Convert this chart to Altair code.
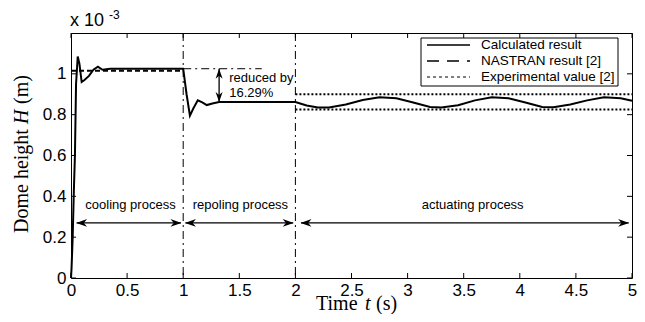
import altair as alt
import pandas as pd

# ---------------- data ----------------
calc_t = [0.0, 0.005, 0.015, 0.025, 0.035, 0.045, 0.06, 0.075, 0.095, 0.12, 0.16, 0.2, 0.24, 0.28, 0.35, 1.0,
          1.03, 1.06, 1.09, 1.13, 1.17, 1.21, 1.26, 1.32, 1.5, 2.0,
          2.1, 2.2, 2.3, 2.45, 2.6, 2.75, 2.9, 3.05, 3.2, 3.3, 3.45, 3.6, 3.75, 3.9, 4.05, 4.2, 4.3, 4.45, 4.6,
          4.75, 4.9, 5.0]
calc_h = [0.0, 0.05, 0.2, 0.42, 0.6, 0.95, 1.085, 1.05, 0.96, 0.97, 0.99, 1.02, 1.035, 1.02, 1.025, 1.025,
          0.9, 0.795, 0.83, 0.87, 0.86, 0.847, 0.855, 0.862, 0.862, 0.862,
          0.845, 0.835, 0.835, 0.85, 0.872, 0.885, 0.88, 0.86, 0.838, 0.835, 0.846, 0.87, 0.885, 0.88, 0.86,
          0.838, 0.836, 0.85, 0.87, 0.885, 0.88, 0.868]

nastran_t = [0.0, 1.0]
nastran_h = [1.015, 1.015]

exp_t = [2.0, 5.0, 2.0, 5.0]
exp_h = [0.9, 0.9, 0.825, 0.825]
exp_id = ["upper", "upper", "lower", "lower"]

x_ticks = [0, 0.5, 1, 1.5, 2, 2.5, 3, 3.5, 4, 4.5, 5]
y_ticks = [0, 0.2, 0.4, 0.6, 0.8, 1.0]
y_ticks_all = [0, 0.2, 0.4, 0.6, 0.8, 1.0]

phase_labels = ["cooling process", "repoling process", "actuating process"]
phase_center = [0.53, 1.51, 3.58]
phase_start = [0.05, 1.02, 2.05]
phase_end = [0.98, 1.98, 4.97]
phase_label_h = 0.36
phase_arrow_h = 0.27

sep_t = [1.0, 2.0]
ref_line_t = [1.0, 1.70]
ref_line_h = 1.025
reduce_t = 1.32
reduce_top = 1.025
reduce_bot = 0.862

legend_labels = ["Calculated result", "NASTRAN result [2]", "Experimental value [2]"]

W, H = 561, 245
XMAX, YMAX = 5, 1.2

xs = alt.Scale(domain=[0, XMAX], nice=False, zero=False)
ys = alt.Scale(domain=[0, YMAX], nice=False, zero=False)

calc_df = pd.DataFrame({"t": calc_t, "h": calc_h})
nas_df = pd.DataFrame({"t": nastran_t, "h": nastran_h})
exp_df = pd.DataFrame({"t": exp_t, "h": exp_h, "id": exp_id})
one = pd.DataFrame({"a": [0]})

SANS = "Liberation Sans"
SERIF = "Liberation Serif"

# axes carrier (labels only)
base_axes = alt.Chart(calc_df).mark_line(opacity=0).encode(
    x=alt.X("t:Q", scale=xs, axis=alt.Axis(values=x_ticks, title=None, ticks=False, domain=False, grid=False,
                                            format="~g", labelFlush=False,
                                            labelFont=SANS, labelFontSize=17, labelColor="black", labelPadding=4)),
    y=alt.Y("h:Q", scale=ys, axis=alt.Axis(values=y_ticks, title=None, ticks=False, domain=False, grid=False,
                                            format="~g", labelFlush=False,
                                            labelFont=SANS, labelFontSize=17, labelColor="black", labelPadding=5)),
)

# inward ticks
xt_df = pd.DataFrame({"t": x_ticks})
yt_df = pd.DataFrame({"h": y_ticks_all})
tick_b = alt.Chart(xt_df).mark_rule(color="black", strokeWidth=1).encode(
    x=alt.X("t:Q", scale=xs), y=alt.value(H), y2=alt.value(H - 5))
tick_t = alt.Chart(xt_df).mark_rule(color="black", strokeWidth=1).encode(
    x=alt.X("t:Q", scale=xs), y=alt.value(0), y2=alt.value(5))
tick_l = alt.Chart(yt_df).mark_rule(color="black", strokeWidth=1).encode(
    y=alt.Y("h:Q", scale=ys), x=alt.value(0), x2=alt.value(5))
tick_r = alt.Chart(yt_df).mark_rule(color="black", strokeWidth=1).encode(
    y=alt.Y("h:Q", scale=ys), x=alt.value(W), x2=alt.value(W - 5))

# separators (dash-dot)
sep_df = pd.DataFrame({"t": sep_t})
seps = alt.Chart(sep_df).mark_rule(color="black", strokeWidth=1, strokeDash=[8, 4, 2, 4]).encode(
    x=alt.X("t:Q", scale=xs), y=alt.value(0), y2=alt.value(H))

refl_df = pd.DataFrame({"t": [ref_line_t[0]], "t2": [ref_line_t[1]], "h": [ref_line_h]})
refl = alt.Chart(refl_df).mark_rule(color="black", strokeWidth=1, strokeDash=[8, 4, 2, 4]).encode(
    x=alt.X("t:Q", scale=xs), x2="t2:Q", y=alt.Y("h:Q", scale=ys))

# data lines
exp_lines = alt.Chart(exp_df).mark_line(color="black", strokeWidth=2, strokeDash=[2, 2]).encode(
    x=alt.X("t:Q", scale=xs), y=alt.Y("h:Q", scale=ys), detail="id:N")
nas_line = alt.Chart(nas_df).mark_line(color="black", strokeWidth=2, strokeDash=[5, 3]).encode(
    x=alt.X("t:Q", scale=xs), y=alt.Y("h:Q", scale=ys))
calc_line = alt.Chart(calc_df).mark_line(color="black", strokeWidth=2).encode(
    x=alt.X("t:Q", scale=xs), y=alt.Y("h:Q", scale=ys), order="idx:Q").transform_window(idx="row_number()")

# phase arrows
ph_df = pd.DataFrame({"label": phase_labels, "c": phase_center, "s": phase_start, "e": phase_end,
                      "lh": [phase_label_h] * 3, "ah": [phase_arrow_h] * 3})
ph_rule = alt.Chart(ph_df).mark_rule(color="black", strokeWidth=1.3).encode(
    x=alt.X("s:Q", scale=xs), x2="e:Q", y=alt.Y("ah:Q", scale=ys))
ARROW_R = "M1,0 L-1,-0.7 L-0.4,0 L-1,0.7 Z"
ARROW_L = "M-1,0 L1,-0.7 L0.4,0 L1,0.7 Z"
ARROW_U = "M0,-1 L-0.7,1 L0,0.4 L0.7,1 Z"
ARROW_D = "M0,1 L-0.7,-1 L0,-0.4 L0.7,-1 Z"
ph_head_r = alt.Chart(ph_df).mark_point(shape=ARROW_R, filled=True, color="black", size=120, opacity=1, xOffset=-5).encode(
    x=alt.X("e:Q", scale=xs), y=alt.Y("ah:Q", scale=ys))
ph_head_l = alt.Chart(ph_df).mark_point(shape=ARROW_L, filled=True, color="black", size=120, opacity=1, xOffset=5).encode(
    x=alt.X("s:Q", scale=xs), y=alt.Y("ah:Q", scale=ys))
ph_text = alt.Chart(ph_df).mark_text(font=SANS, fontSize=13, color="black", align="center", baseline="middle").encode(
    x=alt.X("c:Q", scale=xs), y=alt.Y("lh:Q", scale=ys), text="label:N")

# reduced-by arrow
rd_df = pd.DataFrame({"t": [reduce_t], "top": [reduce_top], "bot": [reduce_bot]})
rd_rule = alt.Chart(rd_df).mark_rule(color="black", strokeWidth=1.3).encode(
    x=alt.X("t:Q", scale=xs), y=alt.Y("top:Q", scale=ys), y2="bot:Q")
rd_up = alt.Chart(rd_df).mark_point(shape=ARROW_U, filled=True, color="black", size=100, opacity=1, yOffset=5).encode(
    x=alt.X("t:Q", scale=xs), y=alt.Y("top:Q", scale=ys))
rd_dn = alt.Chart(rd_df).mark_point(shape=ARROW_D, filled=True, color="black", size=100, opacity=1, yOffset=-5).encode(
    x=alt.X("t:Q", scale=xs), y=alt.Y("bot:Q", scale=ys))
rd_txt_df = pd.DataFrame({"t": [1.41, 1.41], "h": [0.98, 0.905], "txt": ["reduced by", "16.29%"]})
rd_text = alt.Chart(rd_txt_df).mark_text(font=SANS, fontSize=13, color="black", align="left", baseline="middle").encode(
    x=alt.X("t:Q", scale=xs), y=alt.Y("h:Q", scale=ys), text="txt:N")

# legend (drawn)
LX0, LX1, LY0, LY1 = 350, 547, 5, 53
leg_box = alt.Chart(one).mark_rect(fill="white", stroke="black", strokeWidth=1).encode(
    x=alt.value(LX0), x2=alt.value(LX1), y=alt.value(LY0), y2=alt.value(LY1))
leg_rows = [12, 28, 44]
dashes = [[1, 0], [12, 8], [3, 3]]
widths = [1.5, 1.5, 1.2]
leg_layers = [leg_box]
for i, lab in enumerate(legend_labels):
    leg_layers.append(alt.Chart(one).mark_rule(color="black", strokeWidth=widths[i], strokeDash=dashes[i]).encode(
        x=alt.value(356), x2=alt.value(399), y=alt.value(leg_rows[i])))
    leg_layers.append(alt.Chart(one).mark_text(font=SANS, fontSize=13.5, color="black", align="left",
                                               baseline="middle", text=lab).encode(
        x=alt.value(410), y=alt.value(leg_rows[i])))

# exponent label and axis titles
exp_main = alt.Chart(one).mark_text(font=SANS, fontSize=18, color="black", align="left", baseline="middle",
                                    text="x 10").encode(x=alt.value(-1), y=alt.value(-12))
exp_sup = alt.Chart(one).mark_text(font=SANS, fontSize=12, color="black", align="left", baseline="middle",
                                   text="-3").encode(x=alt.value(38), y=alt.value(-18))

TY = 271
xt1 = alt.Chart(one).mark_text(font=SERIF, fontSize=20, color="black", align="left", baseline="middle",
                               text="Time").encode(x=alt.value(245), y=alt.value(TY))
xt2 = alt.Chart(one).mark_text(font=SERIF, fontSize=20, fontStyle="italic", color="black", align="left",
                               baseline="middle", text="t").encode(x=alt.value(294), y=alt.value(TY))
xt3 = alt.Chart(one).mark_text(font=SERIF, fontSize=20, color="black", align="left", baseline="middle",
                               text="(s)").encode(x=alt.value(305), y=alt.value(TY))

yt1 = alt.Chart(one).mark_text(font=SERIF, fontSize=20, color="black", align="left", baseline="middle",
                               angle=270, text="Dome height").encode(x=alt.value(-49), y=alt.value(200))
yt2 = alt.Chart(one).mark_text(font=SERIF, fontSize=20, fontStyle="italic", color="black", align="left",
                               baseline="middle", angle=270, text="H").encode(x=alt.value(-49), y=alt.value(91))
yt3 = alt.Chart(one).mark_text(font=SERIF, fontSize=20, color="black", align="left", baseline="middle",
                               angle=270, text="(m)").encode(x=alt.value(-49), y=alt.value(71))

chart = alt.layer(
    base_axes, seps, refl, exp_lines, nas_line, calc_line,
    tick_b, tick_t, tick_l, tick_r,
    ph_rule, ph_head_r, ph_head_l, ph_text,
    rd_rule, rd_up, rd_dn, rd_text,
    *leg_layers,
    exp_main, exp_sup, xt1, xt2, xt3, yt1, yt2, yt3,
).properties(
    width=W, height=H,
    autosize=alt.AutoSizeParams(type="none"),
    padding={"left": 63, "top": 25, "right": 5, "bottom": 36},
    background="white",
).configure_view(stroke="black", strokeWidth=1)

chart.save("out.html", embed_options={"renderer": "svg", "actions": False})
